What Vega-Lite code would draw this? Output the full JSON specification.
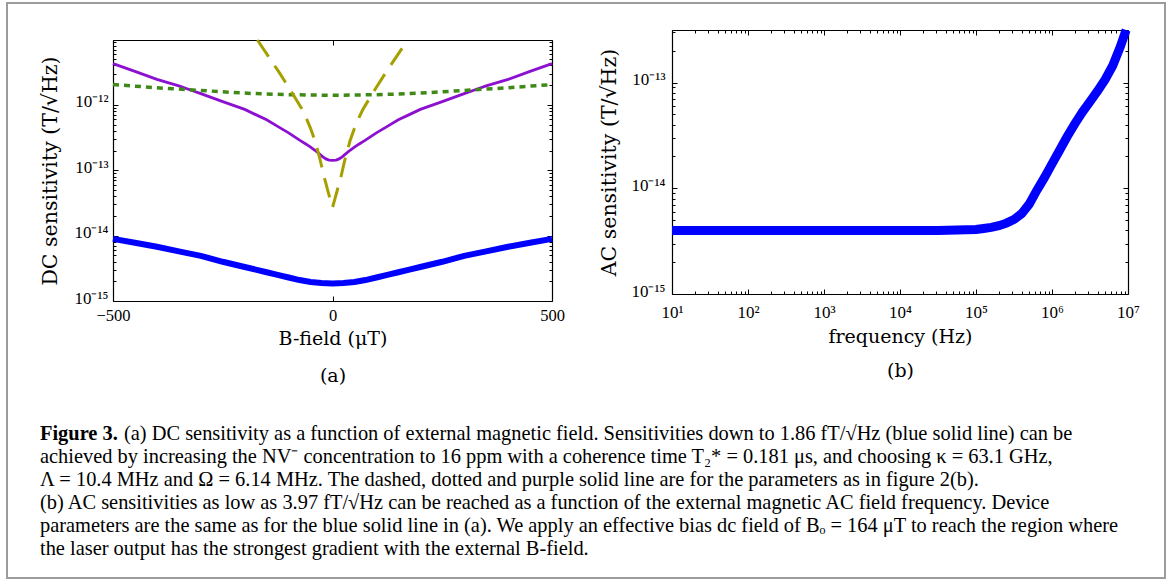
{
  "$schema": "https://vega.github.io/schema/vega-lite/v6.json",
  "background": "white",
  "width": 1171,
  "height": 584,
  "autosize": {"type": "fit", "contains": "padding"},
  "padding": {"left": 7, "top": 3, "right": 6, "bottom": 6},
  "config": {
    "view": {"stroke": "#9c9c9c", "strokeWidth": 2},
    "axis": {"domainColor": "black", "domainWidth": 1.2, "tickColor": "black", "tickWidth": 1, "labelColor": "black", "titleColor": "black", "labelFont": "Liberation Serif", "labelFontSize": 16.5, "titleFont": "DejaVu Serif", "titleFontSize": 19, "titleFontWeight": "normal", "grid": false, "labelFlush": false, "labelOverlap": false},
    "text": {"font": "Liberation Serif"}
  },
  "datasets": {
    "caption": [
      {"line": 0, "part": "label", "text": "Figure 3."},
      {"line": 0, "part": "body", "text": "(a)  DC sensitivity as a function of external magnetic field. Sensitivities down to 1.86 fT/√Hz (blue solid line) can be"},
      {"line": 1, "part": "body", "text": "achieved by increasing the NV⁻ concentration to 16 ppm with a coherence time T₂* = 0.181 μs, and choosing κ = 63.1 GHz,"},
      {"line": 2, "part": "body", "text": "Λ = 10.4 MHz and Ω = 6.14 MHz. The dashed, dotted and purple solid line are for the parameters as in figure 2(b)."},
      {"line": 3, "part": "body", "text": "(b) AC sensitivities as low as 3.97 fT/√Hz can be reached as a function of the external magnetic AC  field frequency. Device"},
      {"line": 4, "part": "body", "text": "parameters are the same as for the blue solid line in (a). We apply an effective bias dc field of Bₒ = 164 μT to reach the region where"},
      {"line": 5, "part": "body", "text": "the laser output has the strongest gradient with the external B-field."}
    ],
    "a_blue": [
      {"b": -500, "s": 8.91e-15}, {"b": -450, "s": 7.76e-15}, {"b": -400, "s": 6.76e-15}, {"b": -350, "s": 5.75e-15},
      {"b": -300, "s": 4.90e-15}, {"b": -250, "s": 3.98e-15}, {"b": -200, "s": 3.31e-15}, {"b": -175, "s": 3.02e-15},
      {"b": -150, "s": 2.75e-15}, {"b": -125, "s": 2.51e-15}, {"b": -100, "s": 2.29e-15}, {"b": -75, "s": 2.09e-15},
      {"b": -50, "s": 1.95e-15}, {"b": -25, "s": 1.88e-15}, {"b": 0, "s": 1.86e-15}, {"b": 25, "s": 1.88e-15},
      {"b": 50, "s": 1.95e-15}, {"b": 75, "s": 2.09e-15}, {"b": 100, "s": 2.29e-15}, {"b": 125, "s": 2.51e-15},
      {"b": 150, "s": 2.75e-15}, {"b": 175, "s": 3.02e-15}, {"b": 200, "s": 3.31e-15}, {"b": 250, "s": 3.98e-15},
      {"b": 300, "s": 4.90e-15}, {"b": 350, "s": 5.75e-15}, {"b": 400, "s": 6.76e-15}, {"b": 450, "s": 7.76e-15},
      {"b": 500, "s": 8.91e-15}
    ],
    "a_purple": [
      {"b": -500, "s": 4.27e-12}, {"b": -450, "s": 3.24e-12}, {"b": -400, "s": 2.45e-12}, {"b": -350, "s": 1.95e-12},
      {"b": -325, "s": 1.70e-12}, {"b": -300, "s": 1.48e-12}, {"b": -250, "s": 1.12e-12}, {"b": -200, "s": 8.51e-13},
      {"b": -175, "s": 7.08e-13}, {"b": -150, "s": 5.89e-13}, {"b": -125, "s": 4.68e-13}, {"b": -100, "s": 3.72e-13},
      {"b": -75, "s": 2.88e-13}, {"b": -60, "s": 2.50e-13}, {"b": -50, "s": 2.26e-13}, {"b": -40, "s": 2.02e-13},
      {"b": -30, "s": 1.78e-13}, {"b": -22, "s": 1.60e-13}, {"b": -15, "s": 1.49e-13}, {"b": -8, "s": 1.43e-13},
      {"b": 0, "s": 1.41e-13}, {"b": 8, "s": 1.43e-13}, {"b": 15, "s": 1.49e-13}, {"b": 22, "s": 1.60e-13},
      {"b": 30, "s": 1.78e-13}, {"b": 40, "s": 2.02e-13}, {"b": 50, "s": 2.26e-13}, {"b": 60, "s": 2.50e-13},
      {"b": 75, "s": 2.88e-13}, {"b": 100, "s": 3.72e-13}, {"b": 125, "s": 4.68e-13}, {"b": 150, "s": 5.89e-13},
      {"b": 175, "s": 7.08e-13}, {"b": 200, "s": 8.51e-13}, {"b": 250, "s": 1.12e-12}, {"b": 300, "s": 1.48e-12},
      {"b": 325, "s": 1.70e-12}, {"b": 350, "s": 1.95e-12}, {"b": 400, "s": 2.45e-12}, {"b": 450, "s": 3.24e-12},
      {"b": 500, "s": 4.27e-12}
    ],
    "a_green": [
      {"b": -500, "s": 2.04e-12}, {"b": -450, "s": 1.93e-12}, {"b": -400, "s": 1.82e-12}, {"b": -350, "s": 1.74e-12},
      {"b": -300, "s": 1.66e-12}, {"b": -250, "s": 1.58e-12}, {"b": -200, "s": 1.51e-12}, {"b": -150, "s": 1.46e-12},
      {"b": -100, "s": 1.43e-12}, {"b": -50, "s": 1.41e-12}, {"b": 0, "s": 1.40e-12}, {"b": 50, "s": 1.41e-12},
      {"b": 100, "s": 1.43e-12}, {"b": 150, "s": 1.46e-12}, {"b": 200, "s": 1.51e-12}, {"b": 250, "s": 1.58e-12},
      {"b": 300, "s": 1.66e-12}, {"b": 350, "s": 1.74e-12}, {"b": 400, "s": 1.82e-12}, {"b": 450, "s": 1.93e-12},
      {"b": 500, "s": 2.04e-12}
    ],
    "a_olive": [
      {"b": -171, "s": 9.8e-12}, {"b": -160, "s": 7.59e-12}, {"b": -140, "s": 4.79e-12},
      {"b": -120, "s": 3.02e-12}, {"b": -100, "s": 1.86e-12}, {"b": -90, "s": 1.45e-12}, {"b": -80, "s": 1.12e-12},
      {"b": -70, "s": 8.71e-13}, {"b": -60, "s": 6.31e-13}, {"b": -50, "s": 4.37e-13}, {"b": -40, "s": 2.82e-13},
      {"b": -30, "s": 1.62e-13}, {"b": -25, "s": 1.17e-13}, {"b": -20, "s": 8.32e-14}, {"b": -15, "s": 6.31e-14},
      {"b": -10, "s": 4.68e-14}, {"b": -5, "s": 3.55e-14}, {"b": 0, "s": 2.69e-14}, {"b": 5, "s": 3.55e-14},
      {"b": 10, "s": 4.68e-14}, {"b": 15, "s": 6.31e-14}, {"b": 20, "s": 8.32e-14}, {"b": 25, "s": 1.17e-13},
      {"b": 30, "s": 1.62e-13}, {"b": 40, "s": 2.82e-13}, {"b": 50, "s": 4.37e-13}, {"b": 60, "s": 6.31e-13},
      {"b": 70, "s": 8.71e-13}, {"b": 80, "s": 1.12e-12}, {"b": 90, "s": 1.45e-12}, {"b": 100, "s": 1.86e-12},
      {"b": 120, "s": 3.02e-12}, {"b": 140, "s": 4.79e-12}, {"b": 160, "s": 7.59e-12}, {"b": 171, "s": 9.8e-12}
    ],
    "b_blue": [
      {"f": 10, "s": 3.98e-15}, {"f": 100, "s": 3.98e-15}, {"f": 1000, "s": 3.98e-15}, {"f": 10000, "s": 3.98e-15},
      {"f": 31623, "s": 3.99e-15}, {"f": 100000, "s": 4.07e-15}, {"f": 125893, "s": 4.17e-15}, {"f": 158489, "s": 4.27e-15},
      {"f": 199526, "s": 4.42e-15}, {"f": 251189, "s": 4.68e-15}, {"f": 316228, "s": 5.07e-15}, {"f": 398107, "s": 5.75e-15},
      {"f": 501187, "s": 7.08e-15}, {"f": 630957, "s": 9.55e-15}, {"f": 794328, "s": 1.26e-14}, {"f": 1000000, "s": 1.70e-14},
      {"f": 1258925, "s": 2.29e-14}, {"f": 1584893, "s": 3.09e-14}, {"f": 1995262, "s": 4.07e-14}, {"f": 2511886, "s": 5.25e-14},
      {"f": 3162278, "s": 6.61e-14}, {"f": 3981072, "s": 8.32e-14}, {"f": 5011872, "s": 1.07e-13}, {"f": 6309573, "s": 1.45e-13},
      {"f": 7943282, "s": 2.19e-13}, {"f": 9440000, "s": 3.14e-13}
    ]
  },
  "resolve": {"scale": {"x": "independent", "y": "independent"}, "axis": {"x": "independent", "y": "independent"}},
  "layer": [
    {
      "data": {"name": "caption"},
      "transform": [{"filter": "datum.part == 'label'"}],
      "mark": {"type": "text", "align": "left", "baseline": "middle", "fontSize": 20.4, "fontWeight": "bold", "color": "black"},
      "encoding": {
        "x": {"datum": 0, "type": "quantitative", "scale": {"domain": [0, 1], "range": [33, 1158], "nice": false, "zero": false}, "axis": null},
        "y": {"field": "line", "type": "quantitative", "scale": {"domain": [0, 5], "range": [431, 546], "nice": false, "zero": false}, "axis": null},
        "text": {"field": "text"}
      }
    },
    {
      "data": {"name": "caption"},
      "transform": [{"filter": "datum.part == 'body' && datum.line == 0"}],
      "mark": {"type": "text", "align": "left", "baseline": "middle", "fontSize": 20.4, "dx": 84, "color": "black"},
      "encoding": {
        "x": {"datum": 0, "type": "quantitative", "scale": {"domain": [0, 1], "range": [33, 1158], "nice": false, "zero": false}, "axis": null},
        "y": {"field": "line", "type": "quantitative", "scale": {"domain": [0, 5], "range": [431, 546], "nice": false, "zero": false}, "axis": null},
        "text": {"field": "text"}
      }
    },
    {
      "data": {"name": "caption"},
      "transform": [{"filter": "datum.part == 'body' && datum.line > 0"}],
      "mark": {"type": "text", "align": "left", "baseline": "middle", "fontSize": 20.4, "color": "black"},
      "encoding": {
        "x": {"datum": 0, "type": "quantitative", "scale": {"domain": [0, 1], "range": [33, 1158], "nice": false, "zero": false}, "axis": null},
        "y": {"field": "line", "type": "quantitative", "scale": {"domain": [0, 5], "range": [431, 546], "nice": false, "zero": false}, "axis": null},
        "text": {"field": "text"}
      }
    },
    {
      "data": {"name": "a_blue"},
      "mark": {"type": "line", "color": "#0000ff", "strokeWidth": 6},
      "encoding": {
        "x": {"field": "b", "type": "quantitative", "scale": {"domain": [-500, 500], "range": [106, 545], "nice": false, "zero": false},
          "axis": {"orient": "bottom", "offset": -277, "values": [-500, 0, 500], "ticks": false, "domain": true, "labelPadding": 6, "title": ["B-field (μT)", "(a)"], "titlePadding": 6, "titleLineHeight": 37}},
        "y": {"field": "s", "type": "quantitative", "scale": {"type": "log", "domain": [1e-15, 9.8e-12], "range": [298, 37], "nice": false},
          "axis": {"orient": "left", "offset": -106, "values": [1e-15, 1e-14, 1e-13, 1e-12], "ticks": false, "domain": true, "labelPadding": 5, "labelOffset": -3, "labelFontSize": 17, "labelExpr": "'10' + replace(replace(replace(replace(replace(replace('' + round(log(datum.value) / LN10), '-', '⁻'), '1', '¹'), '2', '²'), '3', '³'), '4', '⁴'), '5', '⁵')", "title": "DC sensitivity (T/√Hz)", "titleFontSize": 20.5, "titlePadding": 13}}
      }
    },
    {
      "data": {"name": "a_purple"},
      "mark": {"type": "line", "color": "#8c10d0", "strokeWidth": 2.8},
      "encoding": {
        "x": {"field": "b", "type": "quantitative", "scale": {"domain": [-500, 500], "range": [106, 545], "nice": false, "zero": false},
          "axis": {"orient": "bottom", "offset": -277, "values": [-500, 0, 500], "labels": false, "domain": false, "tickSize": -5, "title": null}},
        "y": {"field": "s", "type": "quantitative", "scale": {"type": "log", "domain": [1e-15, 9.8e-12], "range": [298, 37], "nice": false},
          "axis": {"orient": "left", "offset": -106, "values": [1e-15, 1e-14, 1e-13, 1e-12], "labels": false, "domain": false, "tickSize": -5, "title": null}}
      }
    },
    {
      "data": {"name": "a_green"},
      "mark": {"type": "line", "color": "#3f8a16", "strokeWidth": 3.5, "strokeDash": [6, 5]},
      "encoding": {
        "x": {"field": "b", "type": "quantitative", "scale": {"domain": [-500, 500], "range": [106, 545], "nice": false, "zero": false},
          "axis": {"orient": "top", "offset": -37, "values": [-500, 0, 500], "labels": false, "domain": true, "tickSize": -5, "title": null}},
        "y": {"field": "s", "type": "quantitative", "scale": {"type": "log", "domain": [1e-15, 9.8e-12], "range": [298, 37], "nice": false},
          "axis": {"orient": "left", "offset": -106, "values": [2e-15, 3e-15, 4e-15, 5e-15, 6e-15, 7e-15, 8e-15, 9e-15, 2e-14, 3e-14, 4e-14, 5e-14, 6e-14, 7e-14, 8e-14, 9e-14, 2e-13, 3e-13, 4e-13, 5e-13, 6e-13, 7e-13, 8e-13, 9e-13, 2e-12, 3e-12, 4e-12, 5e-12, 6e-12, 7e-12, 8e-12, 9e-12], "labels": false, "domain": false, "tickSize": -3, "title": null}}
      }
    },
    {
      "data": {"name": "a_olive"},
      "mark": {"type": "line", "color": "#a5a000", "strokeWidth": 3, "strokeDash": [20, 11]},
      "encoding": {
        "x": {"field": "b", "type": "quantitative", "scale": {"domain": [-500, 500], "range": [106, 545], "nice": false, "zero": false}, "axis": null},
        "y": {"field": "s", "type": "quantitative", "scale": {"type": "log", "domain": [1e-15, 9.8e-12], "range": [298, 37], "nice": false},
          "axis": {"orient": "right", "offset": -613, "values": [1e-15, 1e-14, 1e-13, 1e-12], "labels": false, "domain": true, "tickSize": -5, "title": null}}
      }
    },
    {
      "data": {"name": "a_olive"},
      "mark": {"type": "line", "strokeOpacity": 0},
      "encoding": {
        "x": {"field": "b", "type": "quantitative", "scale": {"domain": [-500, 500], "range": [106, 545], "nice": false, "zero": false}, "axis": null},
        "y": {"field": "s", "type": "quantitative", "scale": {"type": "log", "domain": [1e-15, 9.8e-12], "range": [298, 37], "nice": false},
          "axis": {"orient": "right", "offset": -613, "values": [2e-15, 3e-15, 4e-15, 5e-15, 6e-15, 7e-15, 8e-15, 9e-15, 2e-14, 3e-14, 4e-14, 5e-14, 6e-14, 7e-14, 8e-14, 9e-14, 2e-13, 3e-13, 4e-13, 5e-13, 6e-13, 7e-13, 8e-13, 9e-13, 2e-12, 3e-12, 4e-12, 5e-12, 6e-12, 7e-12, 8e-12, 9e-12], "labels": false, "domain": false, "tickSize": -3, "title": null}}
      }
    },
    {
      "data": {"name": "b_blue"},
      "mark": {"type": "line", "color": "#0000ff", "strokeWidth": 9},
      "encoding": {
        "x": {"field": "f", "type": "quantitative", "scale": {"type": "log", "domain": [10, 10000000], "range": [665, 1121], "nice": false},
          "axis": {"orient": "bottom", "offset": -284, "values": [10, 100, 1000, 10000, 100000, 1000000, 10000000], "ticks": false, "domain": true, "labelPadding": 10, "labelFontSize": 17, "labelExpr": "'10' + replace(replace(replace(replace(replace(replace(replace('' + round(log(datum.value) / LN10), '1', '¹'), '2', '²'), '3', '³'), '4', '⁴'), '5', '⁵'), '6', '⁶'), '7', '⁷')", "title": ["frequency (Hz)", "(b)"], "titlePadding": 7, "titleLineHeight": 34}},
        "y": {"field": "s", "type": "quantitative", "scale": {"type": "log", "domain": [1e-15, 3.14e-13], "range": [291, 27], "nice": false},
          "axis": {"orient": "left", "offset": -665, "values": [1e-15, 1e-14, 1e-13], "ticks": false, "domain": true, "labelPadding": 7, "labelOffset": -3, "labelFontSize": 17, "labelExpr": "'10' + replace(replace(replace(replace(replace(replace('' + round(log(datum.value) / LN10), '-', '⁻'), '1', '¹'), '2', '²'), '3', '³'), '4', '⁴'), '5', '⁵')", "title": "AC sensitivity (T/√Hz)", "titleFontSize": 20.5, "titlePadding": 11}}
      }
    },
    {
      "data": {"name": "b_blue"},
      "mark": {"type": "line", "strokeOpacity": 0},
      "encoding": {
        "x": {"field": "f", "type": "quantitative", "scale": {"type": "log", "domain": [10, 10000000], "range": [665, 1121], "nice": false},
          "axis": {"orient": "bottom", "offset": -284, "values": [10, 100, 1000, 10000, 100000, 1000000, 10000000], "labels": false, "domain": false, "tickSize": -5, "title": null}},
        "y": {"field": "s", "type": "quantitative", "scale": {"type": "log", "domain": [1e-15, 3.14e-13], "range": [291, 27], "nice": false},
          "axis": {"orient": "left", "offset": -665, "values": [1e-15, 1e-14, 1e-13], "labels": false, "domain": false, "tickSize": -5, "title": null}}
      }
    },
    {
      "data": {"name": "b_blue"},
      "mark": {"type": "line", "strokeOpacity": 0},
      "encoding": {
        "x": {"field": "f", "type": "quantitative", "scale": {"type": "log", "domain": [10, 10000000], "range": [665, 1121], "nice": false},
          "axis": {"orient": "bottom", "offset": -284, "values": [20, 30, 40, 50, 60, 70, 80, 90, 200, 300, 400, 500, 600, 700, 800, 900, 2000, 3000, 4000, 5000, 6000, 7000, 8000, 9000, 20000, 30000, 40000, 50000, 60000, 70000, 80000, 90000, 200000, 300000, 400000, 500000, 600000, 700000, 800000, 900000, 2000000, 3000000, 4000000, 5000000, 6000000, 7000000, 8000000, 9000000], "labels": false, "domain": false, "tickSize": -3, "title": null}},
        "y": {"field": "s", "type": "quantitative", "scale": {"type": "log", "domain": [1e-15, 3.14e-13], "range": [291, 27], "nice": false},
          "axis": {"orient": "left", "offset": -665, "values": [2e-15, 3e-15, 4e-15, 5e-15, 6e-15, 7e-15, 8e-15, 9e-15, 2e-14, 3e-14, 4e-14, 5e-14, 6e-14, 7e-14, 8e-14, 9e-14, 2e-13, 3e-13], "labels": false, "domain": false, "tickSize": -3, "title": null}}
      }
    },
    {
      "data": {"name": "b_blue"},
      "mark": {"type": "line", "strokeOpacity": 0},
      "encoding": {
        "x": {"field": "f", "type": "quantitative", "scale": {"type": "log", "domain": [10, 10000000], "range": [665, 1121], "nice": false},
          "axis": {"orient": "top", "offset": -27, "values": [10, 100, 1000, 10000, 100000, 1000000, 10000000], "labels": false, "domain": true, "tickSize": -5, "title": null}},
        "y": {"field": "s", "type": "quantitative", "scale": {"type": "log", "domain": [1e-15, 3.14e-13], "range": [291, 27], "nice": false},
          "axis": {"orient": "right", "offset": -37, "values": [1e-15, 1e-14, 1e-13], "labels": false, "domain": true, "tickSize": -5, "title": null}}
      }
    },
    {
      "data": {"name": "b_blue"},
      "mark": {"type": "line", "strokeOpacity": 0},
      "encoding": {
        "x": {"field": "f", "type": "quantitative", "scale": {"type": "log", "domain": [10, 10000000], "range": [665, 1121], "nice": false},
          "axis": {"orient": "top", "offset": -27, "values": [20, 30, 40, 50, 60, 70, 80, 90, 200, 300, 400, 500, 600, 700, 800, 900, 2000, 3000, 4000, 5000, 6000, 7000, 8000, 9000, 20000, 30000, 40000, 50000, 60000, 70000, 80000, 90000, 200000, 300000, 400000, 500000, 600000, 700000, 800000, 900000, 2000000, 3000000, 4000000, 5000000, 6000000, 7000000, 8000000, 9000000], "labels": false, "domain": false, "tickSize": -3, "title": null}},
        "y": {"field": "s", "type": "quantitative", "scale": {"type": "log", "domain": [1e-15, 3.14e-13], "range": [291, 27], "nice": false},
          "axis": {"orient": "right", "offset": -37, "values": [2e-15, 3e-15, 4e-15, 5e-15, 6e-15, 7e-15, 8e-15, 9e-15, 2e-14, 3e-14, 4e-14, 5e-14, 6e-14, 7e-14, 8e-14, 9e-14, 2e-13, 3e-13], "labels": false, "domain": false, "tickSize": -3, "title": null}}
      }
    }
  ]
}
